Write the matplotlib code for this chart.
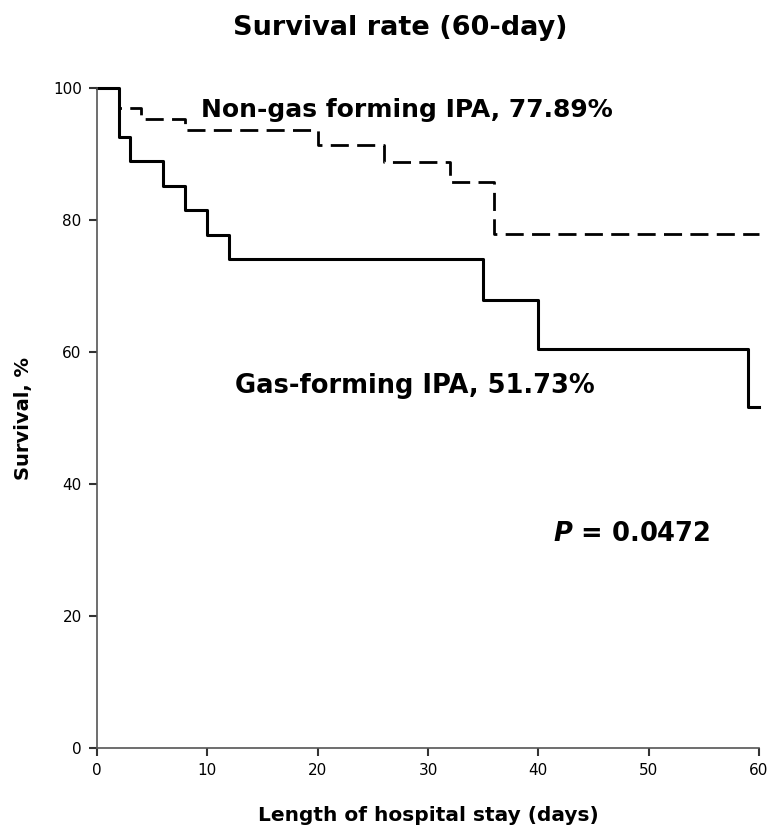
import matplotlib
matplotlib.use("Agg")
import matplotlib.pyplot as plt

# Gas-forming IPA (solid) step data: times where survival changes, and survival after change
gas_times = [0, 2, 3, 6, 8, 10, 12, 35, 40, 59, 60]
gas_surv = [100, 92.59, 88.89, 85.19, 81.48, 77.78, 74.07, 67.9, 60.4, 51.73, 51.73]

# Non-gas forming IPA (dashed)
nongas_times = [0, 2, 4, 8, 20, 26, 32, 36, 60]
nongas_surv = [100, 96.9, 95.3, 93.7, 91.4, 88.8, 85.8, 77.89, 77.89]

x_ticks = [0, 10, 20, 30, 40, 50, 60]
y_ticks = [0, 20, 40, 60, 80, 100]

plt.rcParams['font.family'] = ['DejaVu Sans']
plt.rcParams['mathtext.fontset'] = 'custom'
plt.rcParams['mathtext.it'] = 'DejaVu Sans:italic:bold'
plt.rcParams['mathtext.rm'] = 'DejaVu Sans:bold'

fig = plt.figure(figsize=(7.71, 8.32), dpi=100)
ax = fig.add_axes([97/771, 1-748/832, (759-97)/771, (748-88)/832])

ax.step(gas_times, gas_surv, where='post', color='black', lw=2.2, clip_on=False)
ax.step(nongas_times, nongas_surv, where='post', color='black', lw=2.0,
        linestyle=(0, (6.5, 3)), clip_on=False)

ax.set_xlim(0, 60)
ax.set_ylim(0, 100)
ax.set_xticks(x_ticks)
ax.set_yticks(y_ticks)
for s in ['top', 'right']:
    ax.spines[s].set_visible(False)
for s in ['left', 'bottom']:
    ax.spines[s].set_color('#555555')
    ax.spines[s].set_linewidth(1.2)
ax.tick_params(axis='both', direction='out', length=6, width=1.5, color='#333333',
               labelsize=11, pad=5)

ax.set_xlabel('Length of hospital stay (days)', fontsize=14.5, fontweight='bold', labelpad=20)
ax.set_ylabel('Survival, %', fontsize=14, fontweight='bold', labelpad=14)
fig.text(400/771, 1-35/832, 'Survival rate (60-day)', fontsize=19.5, fontweight='bold',
         ha='center', va='baseline')

ax.text(9.39, 95.65, 'Non-gas forming IPA, 77.89%', fontsize=18, fontweight='bold',
        va='baseline', ha='left')
ax.text(12.5, 53.8, 'Gas-forming IPA, 51.73%', fontsize=18.5, fontweight='bold',
        va='baseline', ha='left')
ax.text(41.3, 31.4, r'$P$ = 0.0472', fontsize=18.5, fontweight='bold', va='baseline', ha='left')

fig.savefig('out.png', dpi=100)
